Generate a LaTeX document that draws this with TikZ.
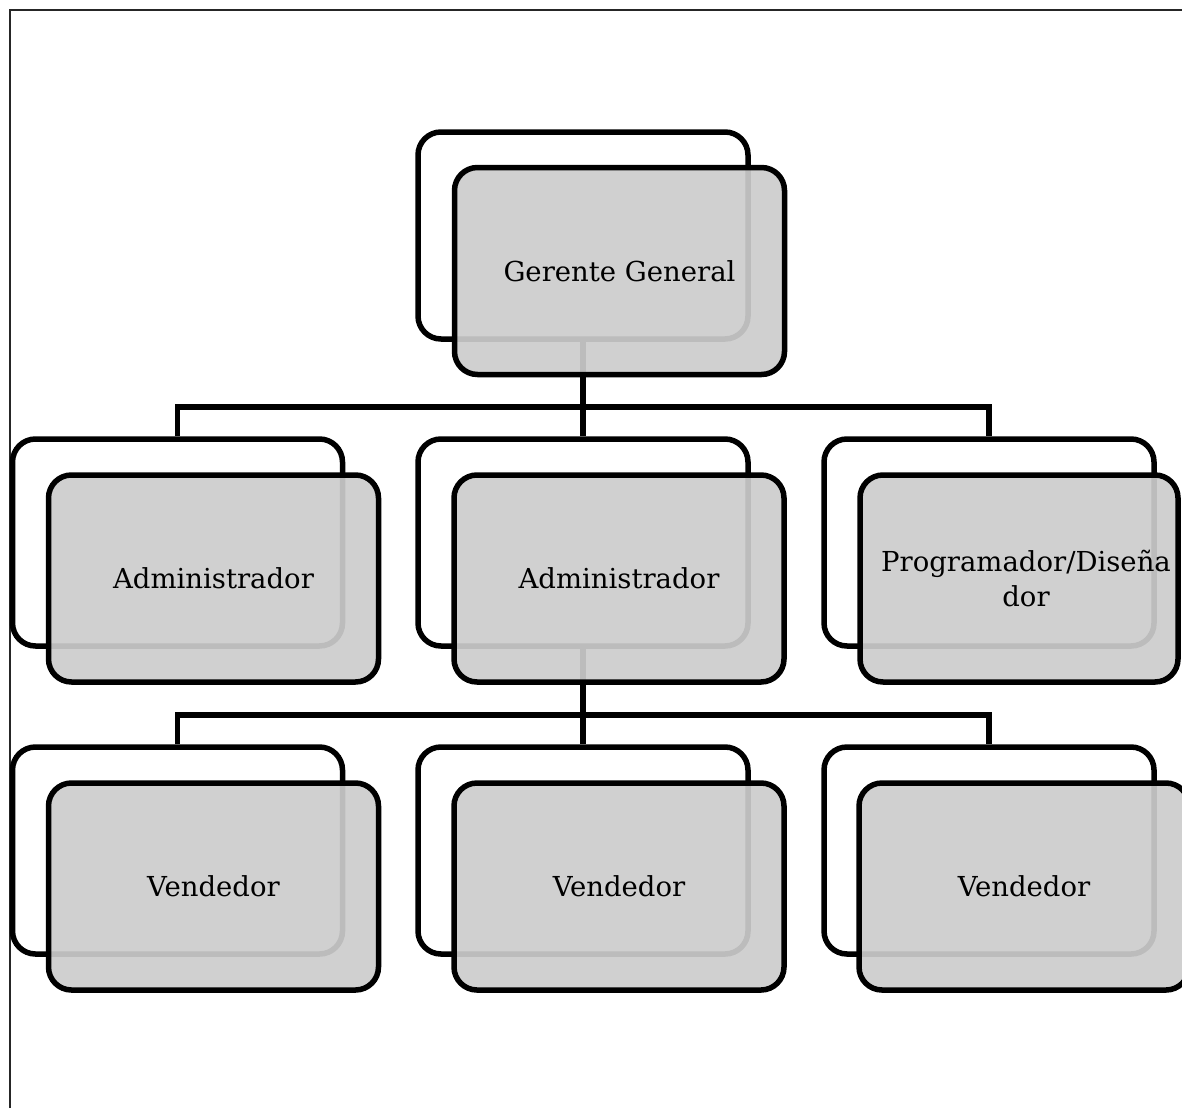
\documentclass[tikz,border=0pt]{standalone}
\usepackage{fontspec}
\setmainfont{DejaVu Serif}
\usetikzlibrary{backgrounds}
\tikzset{
  backbox/.style={draw=black, line width=5.5pt, rounded corners=23pt, fill=white,
    minimum width=330pt, minimum height=207pt, inner sep=0pt},
  frontbox/.style={draw=black, line width=5.5pt, rounded corners=23pt, fill=black!20,
    fill opacity=0.92, draw opacity=1, text opacity=1,
    minimum width=330pt, minimum height=207pt, inner sep=0pt, align=center,
    font=\fontsize{27.5}{35}\selectfont},
  conn/.style={draw=black, line width=5.5pt},
  frameline/.style={draw=black!85, line width=2pt}
}
\begin{document}
\begin{tikzpicture}[x=1pt, y=-1pt]
\useasboundingbox (0,0) rectangle (1182,1108);
% back boxes
\node[backbox] (gB) at (583,235.5) {};
\node[backbox] (a1B) at (177.5,542.5) {};
\node[backbox] (a2B) at (583,542.5) {};
\node[backbox] (pB) at (989,542.5) {};
\node[backbox] (v1B) at (177.5,850.5) {};
\node[backbox] (v2B) at (583,850.5) {};
\node[backbox] (v3B) at (989,850.5) {};
% front boxes
\node[frontbox] (gF) at (619.5,271) {Gerente General};
\node[frontbox] (a1F) at (213.5,578.5) {Administrador};
\node[frontbox] (a2F) at (619,578.5) {Administrador};
\node[frontbox, minimum width=318pt] (pF) at (1019,578.5) {\hspace*{14pt}Programador/Diseña\\\hspace*{14pt}dor};
\node[frontbox] (v1F) at (213.5,886.5) {Vendedor};
\node[frontbox] (v2F) at (619,886.5) {Vendedor};
\node[frontbox] (v3F) at (1024,886.5) {Vendedor};
\begin{pgfonlayer}{background}
  \draw[frameline] (10,1108) -- (10,10.5) -- (1182,10.5);
  \coordinate (j1) at (583,407);
  \coordinate (j2) at (583,715);
  \draw[conn] (gB.south) -- (j1);
  \draw[conn] (a1B.north) |- (j1) -| (pB.north);
  \draw[conn] (j1) -- (a2B.north);
  \draw[conn] (a2B.south) -- (j2);
  \draw[conn] (v1B.north) |- (j2) -| (v3B.north);
  \draw[conn] (j2) -- (v2B.north);
\end{pgfonlayer}
\end{tikzpicture}
\end{document}
